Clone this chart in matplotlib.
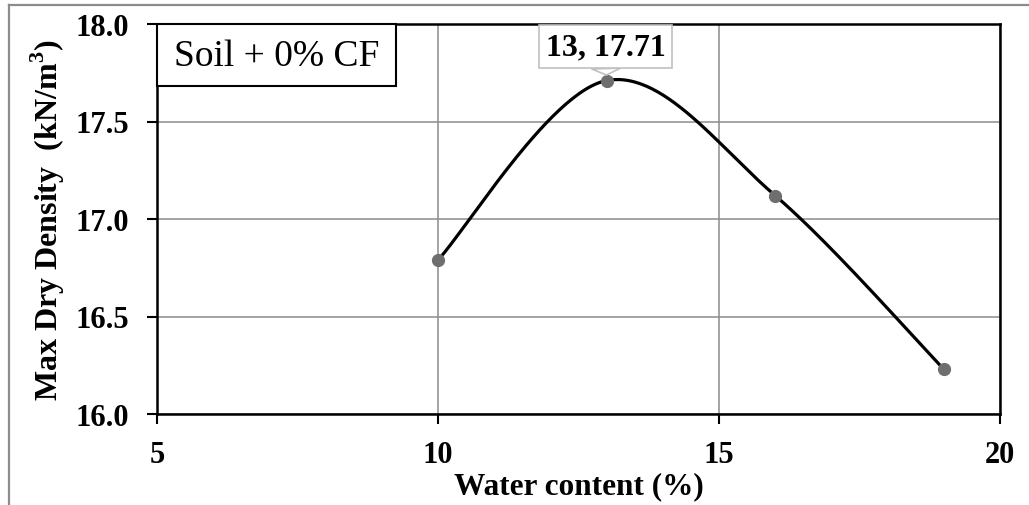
import numpy as np
import matplotlib.pyplot as plt
from matplotlib.lines import Line2D
from matplotlib.patches import Rectangle

plt.rcParams['font.family'] = 'Liberation Serif'
plt.rcParams['mathtext.fontset'] = 'custom'
plt.rcParams['mathtext.rm'] = 'Liberation Serif:bold'
plt.rcParams['mathtext.bf'] = 'Liberation Serif:bold'

# data
water_content = [10, 13, 16, 19]
dry_density = [16.79, 17.71, 17.12, 16.23]
x_ticks = [5, 10, 15, 20]
y_ticks = [16.0, 16.5, 17.0, 17.5, 18.0]
peak_label = "13, 17.71"
series_label = "Soil + 0% CF"


def excel_smooth(xs, ys, n=60):
    # Bezier smoothing like Excel's "smoothed line"
    pts = np.column_stack([xs, ys]).astype(float)
    out = []
    for i in range(len(pts) - 1):
        p0 = pts[max(i - 1, 0)]
        p1 = pts[i]
        p2 = pts[i + 1]
        p3 = pts[min(i + 2, len(pts) - 1)]
        c1 = p1 + (p2 - p0) / 6
        c2 = p2 - (p3 - p1) / 6
        t = np.linspace(0, 1, n)[:, None]
        seg = ((1 - t) ** 3 * p1 + 3 * (1 - t) ** 2 * t * c1
               + 3 * (1 - t) * t ** 2 * c2 + t ** 3 * p2)
        out.append(seg if i == 0 else seg[1:])
    out = np.vstack(out)
    return out[:, 0], out[:, 1]


fig = plt.figure(figsize=(10.29, 5.06), dpi=100)
ax = fig.add_axes([157 / 1029, 1 - 415 / 506, 843 / 1029, 390 / 506])

# outer chart-area border (gray, only top and left visible)
fig.add_artist(Line2D([9 / 1029, 9 / 1029], [0, 1 - 6 / 506],
                      transform=fig.transFigure, color='#8c8c8c', lw=1.6))
fig.add_artist(Line2D([9 / 1029, 1], [1 - 6 / 506, 1 - 6 / 506],
                      transform=fig.transFigure, color='#8c8c8c', lw=1.6))

sx, sy = excel_smooth(water_content, dry_density)
ax.plot(sx, sy, color='black', lw=2.3, zorder=3, solid_capstyle='round')
ax.plot(water_content, dry_density, 'o', color='#6e6e6e', ms=8.5, zorder=4)

ax.set_xlim(5, 20)
ax.set_ylim(16, 18)
ax.set_xticks(x_ticks)
ax.set_yticks(y_ticks)
ax.set_yticklabels([f"{v:.1f}" for v in y_ticks])
ax.grid(True, color='#8c8c8c', lw=1.1)
ax.set_axisbelow(True)
for s in ax.spines.values():
    s.set_linewidth(1.8)
    s.set_color('black')
ax.tick_params(axis='both', direction='out', length=7, width=1.5,
               labelsize=22)
ax.tick_params(axis='y', pad=13)
ax.tick_params(axis='x', pad=12)
for lab in ax.get_xticklabels() + ax.get_yticklabels():
    lab.set_fontweight('bold')

ax.set_xlabel("Water content (%)", fontsize=22.5, fontweight='bold', labelpad=1)
ax.set_ylabel("Max Dry Density  (kN/m$^3$)", fontsize=23, fontweight='bold',
              labelpad=6)

# series label box, pinned to the top-left corner of the plot area
ax.add_patch(Rectangle((0, 0.841), 0.2835, 0.159, transform=ax.transAxes,
                       fc='white', ec='black', lw=1.5, zorder=5,
                       clip_on=False))
ax.text(0.1418, 0.918, series_label, transform=ax.transAxes, fontsize=27,
        ha='center', va='center', zorder=6)

# data callout at the peak
ax.annotate(peak_label, xy=(water_content[1], dry_density[1]),
            xytext=(water_content[1] - 0.02, 17.885), fontsize=23,
            fontweight='bold', ha='center', va='center', zorder=6,
            bbox=dict(boxstyle='square,pad=0.22', fc='white', ec='#c0c0c0',
                      lw=1.2),
            arrowprops=dict(arrowstyle='wedge,tail_width=0.9', fc='white',
                            ec='#c0c0c0', lw=1.2, shrinkA=0, shrinkB=4))

fig.savefig("out.png", dpi=100)
